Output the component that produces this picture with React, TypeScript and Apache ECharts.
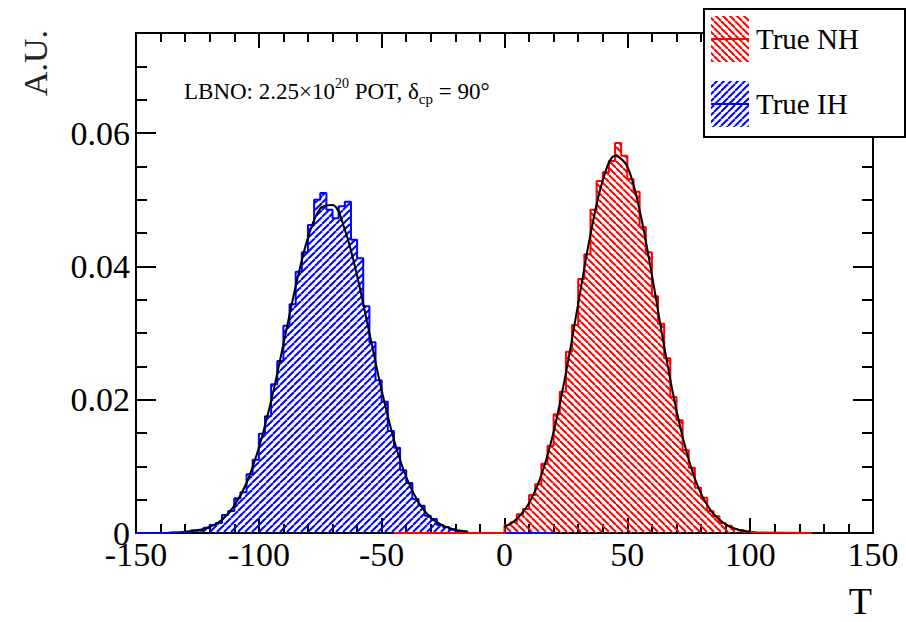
import React, { useEffect, useRef } from 'react';
import * as echarts from 'echarts';

// ---------------- data ----------------
const binWidth = 2.5;

// True NH histogram (red), bins of 2.5 starting at T = 0
const nhStart = 0;
const nhValues = [
  0.0012, 0.0016, 0.0028, 0.0036, 0.0057, 0.0073, 0.0104, 0.0131, 0.0178, 0.0212,
  0.0272, 0.0312, 0.0381, 0.0418, 0.0485, 0.0528, 0.0541, 0.0558, 0.0585, 0.0566,
  0.0531, 0.0512, 0.0459, 0.0421, 0.0355, 0.0314, 0.0262, 0.0204, 0.0169, 0.0124,
  0.0098, 0.0068, 0.0053, 0.0033, 0.0025, 0.0015, 0.0011, 0.0006, 0.0004, 0.0002,
  0.0001,
];
const nhRange = [-45, 125];

// True IH histogram (blue), bins of 2.5 starting at T = -137.5
const ihStart = -137.5;
const ihValues = [
  0.0001, 0.0001, 0.0002, 0.0001, 0.0004, 0.0003, 0.0008, 0.0012, 0.0015, 0.0027,
  0.0033, 0.0052, 0.0061, 0.0088, 0.0110, 0.0149, 0.0175, 0.0223, 0.0258, 0.0311,
  0.0343, 0.0392, 0.0421, 0.0462, 0.0500, 0.0510, 0.0485, 0.0472, 0.0490, 0.0497,
  0.0440, 0.0412, 0.0340, 0.0286, 0.0229, 0.0197, 0.0153, 0.0128, 0.0094, 0.0075,
  0.0051, 0.0041, 0.0026, 0.0021, 0.0012, 0.0009, 0.0005, 0.0003, 0.0002,
];
const ihRange = [-150, 20];

// Fitted curves (black)
const nhFitT = [0, 5, 10, 15, 20, 25, 30, 35, 40, 45, 50, 55, 60, 65, 70, 75, 80, 85, 90, 95, 100];
const nhFitY = [
  0.0009, 0.0021, 0.0045, 0.0087, 0.0152, 0.0240, 0.0344, 0.0448, 0.0529, 0.0566,
  0.0550, 0.0484, 0.0387, 0.0280, 0.0184, 0.0110, 0.0059, 0.0029, 0.0013, 0.0005, 0.0002,
];
const ihFitT = [-130, -125, -120, -115, -110, -105, -100, -95, -90, -85, -80, -75, -70, -65, -60, -55, -50, -45, -40, -35, -30, -25, -20, -15];
const ihFitY = [
  0.0002, 0.0004, 0.0009, 0.0020, 0.0041, 0.0075, 0.0128, 0.0198, 0.0283, 0.0370,
  0.0443, 0.0487, 0.0492, 0.0455, 0.0386, 0.0300, 0.0214, 0.0140, 0.0084, 0.0046,
  0.0023, 0.0011, 0.0005, 0.0002,
];

const xMin = -150;
const xMax = 150;
const xStep = 50;
const yMin = 0;
const yMax = 0.075;
const yStep = 0.02;
const yMinorStep = 0.005;

const legendNames = ['True NH', 'True IH'];
const annotation = { pre: 'LBNO: 2.25×10', sup: '20', mid: ' POT, δ', sub: 'cp', post: ' = 90°' };

const RED = '#ff0000';
const BLUE = '#0000ff';
const FONT = '"Liberation Serif", "DejaVu Serif", serif';

function stepData(start: number, values: number[], range: number[]) {
  const pts: number[][] = [[range[0], 0]];
  values.forEach((v, i) => pts.push([start + i * binWidth, v]));
  pts.push([start + values.length * binWidth, 0]);
  pts.push([range[1], 0]);
  return pts;
}

function hatch(color: string, dir: 'back' | 'fwd') {
  const s = 7;
  const c = document.createElement('canvas');
  c.width = s;
  c.height = s;
  const ctx = c.getContext('2d')!;
  ctx.strokeStyle = color;
  ctx.lineWidth = 2;
  for (const o of [-s, 0, s]) {
    ctx.beginPath();
    if (dir === 'back') {
      ctx.moveTo(o, 0);
      ctx.lineTo(o + s, s);
    } else {
      ctx.moveTo(o, s);
      ctx.lineTo(o + s, 0);
    }
    ctx.stroke();
  }
  return { image: c.toDataURL(), repeat: 'repeat', imageWidth: s, imageHeight: s } as any;
}

export default function App() {
  const ref = useRef<HTMLDivElement>(null);

  useEffect(() => {
    if (!ref.current) return;
    const chart = echarts.init(ref.current, null, { renderer: 'svg' });
    const redHatch = hatch(RED, 'back');
    const blueHatch = hatch(BLUE, 'fwd');

    const tickStyle = { color: '#000', width: 2 };
    const noLine = { show: false, onZero: false };
    const xAxisBase = {
      type: 'value' as const,
      min: xMin,
      max: xMax,
      interval: xStep,
      axisLine: noLine,
      splitLine: { show: false },
      axisTick: { show: true, inside: true, length: 15, lineStyle: tickStyle },
      minorTick: { show: true, splitNumber: 5, length: 9, lineStyle: tickStyle },
    };
    const yMajor = {
      type: 'value' as const,
      min: yMin,
      max: yMax,
      interval: yStep,
      axisLine: noLine,
      splitLine: { show: false },
      axisTick: { show: true, inside: true, length: 20, lineStyle: tickStyle },
    };
    const yMinor = {
      type: 'value' as const,
      min: yMin,
      max: yMax,
      interval: yMinorStep,
      axisLine: noLine,
      splitLine: { show: false },
      axisLabel: { show: false },
      axisTick: { show: true, inside: true, length: 11, lineStyle: tickStyle },
    };

    const yLabel = (v: number) => {
      const r = v / yStep;
      if (Math.abs(r - Math.round(r)) > 1e-6) return '';
      return v === 0 ? '0' : v.toFixed(2);
    };

    chart.setOption({
      animation: false,
      backgroundColor: '#fff',
      grid: {
        left: 136,
        right: 33,
        top: 33,
        bottom: 89,
        show: true,
        borderColor: '#000',
        borderWidth: 2,
        backgroundColor: 'transparent',
      },
      xAxis: [
        {
          ...xAxisBase,
          position: 'bottom',
          axisLabel: { fontFamily: FONT, fontSize: 34, color: '#000', margin: 4 },
        },
        { ...xAxisBase, position: 'top', axisLabel: { show: false } },
      ],
      yAxis: [
        {
          ...yMajor,
          position: 'left',
          axisLabel: { fontFamily: FONT, fontSize: 34, color: '#000', margin: 6, formatter: yLabel },
        },
        { ...yMinor, position: 'left' },
        { ...yMajor, position: 'right', axisLabel: { show: false } },
        { ...yMinor, position: 'right' },
      ],
      series: [
        {
          name: legendNames[1],
          type: 'line',
          step: 'end',
          data: stepData(ihStart, ihValues, ihRange),
          symbol: 'none',
          lineStyle: { color: BLUE, width: 2 },
          areaStyle: { color: blueHatch, opacity: 1 },
          z: 2,
        },
        {
          name: legendNames[0],
          type: 'line',
          step: 'end',
          data: stepData(nhStart, nhValues, nhRange),
          symbol: 'none',
          lineStyle: { color: RED, width: 2 },
          areaStyle: { color: redHatch, opacity: 1 },
          z: 2,
        },
        {
          type: 'line',
          data: ihFitT.map((t, i) => [t, ihFitY[i]]),
          smooth: 0.35,
          symbol: 'none',
          lineStyle: { color: '#000', width: 2 },
          z: 3,
        },
        {
          type: 'line',
          data: nhFitT.map((t, i) => [t, nhFitY[i]]),
          smooth: 0.35,
          symbol: 'none',
          lineStyle: { color: '#000', width: 2 },
          z: 3,
        },
      ],
      graphic: [
        {
          type: 'text',
          left: 184,
          top: 76,
          z: 10,
          style: {
            text: `{a|${annotation.pre}}{s|${annotation.sup}}{a|${annotation.mid}}{b|${annotation.sub}}{a|${annotation.post}}`,
            fill: '#000',
            font: `23px ${FONT}`,
            rich: {
              a: { fontFamily: FONT, fontSize: 23, lineHeight: 30, fill: '#000' },
              s: { fontFamily: FONT, fontSize: 14, lineHeight: 12, verticalAlign: 'top', fill: '#000' },
              b: { fontFamily: FONT, fontSize: 15, lineHeight: 14, verticalAlign: 'bottom', fill: '#000' },
            },
          },
        },
        {
          type: 'text',
          x: 18,
          y: 30,
          rotation: Math.PI / 2,
          z: 10,
          style: {
            text: 'A.U.',
            fill: '#222',
            font: `34px ${FONT}`,
            align: 'right',
            verticalAlign: 'top',
          },
        },
        {
          type: 'text',
          x: 872,
          y: 601,
          z: 10,
          style: {
            text: 'T',
            fill: '#000',
            font: `38px ${FONT}`,
            align: 'right',
            verticalAlign: 'middle',
          },
        },
        {
          type: 'rect',
          z: 20,
          shape: { x: 704, y: 9, width: 201, height: 128 },
          style: { fill: '#fff', stroke: '#000', lineWidth: 2 },
        },
        {
          type: 'rect',
          z: 21,
          shape: { x: 711, y: 16, width: 38, height: 46 },
          style: { fill: redHatch },
        },
        {
          type: 'line',
          z: 22,
          shape: { x1: 711, y1: 39, x2: 749, y2: 39 },
          style: { stroke: RED, lineWidth: 2 },
        },
        {
          type: 'text',
          z: 22,
          x: 756,
          y: 39,
          style: { text: legendNames[0], fill: '#000', font: `29px ${FONT}`, align: 'left', verticalAlign: 'middle' },
        },
        {
          type: 'rect',
          z: 21,
          shape: { x: 711, y: 81, width: 38, height: 46 },
          style: { fill: blueHatch },
        },
        {
          type: 'line',
          z: 22,
          shape: { x1: 711, y1: 104, x2: 749, y2: 104 },
          style: { stroke: BLUE, lineWidth: 2 },
        },
        {
          type: 'text',
          z: 22,
          x: 756,
          y: 104,
          style: { text: legendNames[1], fill: '#000', font: `29px ${FONT}`, align: 'left', verticalAlign: 'middle' },
        },
      ],
    });

    return () => chart.dispose();
  }, []);

  return (
    <div
      ref={ref}
      style={{ position: 'fixed', left: 0, top: 0, width: 906, height: 622, background: '#fff' }}
    />
  );
}
